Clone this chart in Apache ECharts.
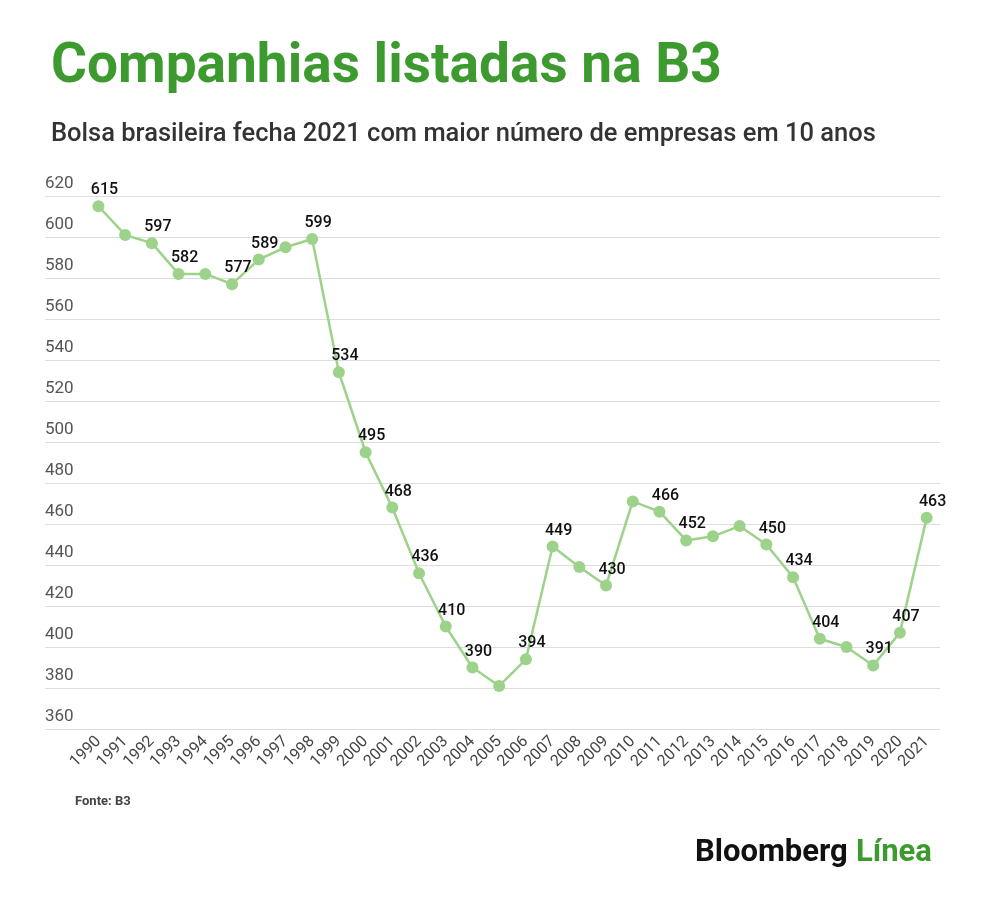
<!DOCTYPE html>
<html><head><meta charset="utf-8">
<script src="https://cdn.jsdelivr.net/npm/echarts@6/dist/echarts.min.js"></script>
<style>html,body{margin:0;background:#fff}#chart{width:1000px;height:898px}</style>
</head><body><div id="chart"></div>
<script>
// anos e número de companhias listadas
var years = [1990,1991,1992,1993,1994,1995,1996,1997,1998,1999,2000,2001,2002,2003,2004,2005,
             2006,2007,2008,2009,2010,2011,2012,2013,2014,2015,2016,2017,2018,2019,2020,2021];
var values = [615,601,597,582,582,577,589,595,599,534,495,468,436,410,390,381,
              394,449,439,430,471,466,452,454,459,450,434,404,400,391,407,463];
// anos que têm rótulo no gráfico
var labeled = [1990,1992,1993,1995,1996,1998,1999,2000,2001,2002,2003,2004,2006,2007,2009,
               2011,2012,2015,2016,2017,2019,2020,2021];

var chart = echarts.init(document.getElementById('chart'));
var data = years.map(function(y, i){
  return {value: [y, values[i]], label: {show: labeled.indexOf(y) >= 0}};
});
chart.setOption({
  backgroundColor: '#fff',
  textStyle: {fontFamily: 'Roboto'},
  title: [
    {text: 'Companhias listadas na B3', left: 46, top: 36,
     textStyle: {color: '#3c9a2e', fontSize: 55, fontWeight: 'bold', fontFamily: 'Roboto'}},
    {text: 'Bolsa brasileira fecha 2021 com maior número de empresas em 10 anos', left: 46, top: 117,
     textStyle: {color: '#333', fontSize: 25.5, fontWeight: 500, fontFamily: 'Roboto'}}
  ],
  grid: {left: 45, right: 60, top: 196, bottom: 169},
  xAxis: {
    type: 'value', min: 1988, max: 2021.5, interval: 1,
    axisLine: {show: false}, axisTick: {show: false}, splitLine: {show: false},
    axisLabel: {rotate: 45, color: '#444', fontSize: 16, margin: 10,
      formatter: function(v){ return (v >= 1990 && v <= 2021) ? String(v) : ''; }}
  },
  yAxis: {
    type: 'value', min: 360, max: 620, interval: 20,
    axisLine: {show: false}, axisTick: {show: false},
    splitLine: {lineStyle: {color: '#ddd', width: 1}},
    axisLabel: {inside: true, verticalAlign: 'bottom', margin: 0, padding: [0,0,4,0],
      color: '#555', fontSize: 17}
  },
  series: [{
    type: 'line', data: data, symbol: 'circle', symbolSize: 12,
    itemStyle: {color: '#9dd28a'},
    lineStyle: {color: '#9dd28a', width: 2.5},
    label: {position: 'top', distance: 2, offset: [6, 0], color: '#111', fontSize: 16, fontWeight: 500,
      formatter: function(p){ return p.value[1]; }}
  }],
  graphic: [
    {type: 'text', left: 75, top: 795, style: {text: 'Fonte: B3', fill: '#444', fontSize: 13, fontWeight: 'bold', fontFamily: 'Roboto'}},
    {type: 'text', left: 695, top: 838, style: {text: 'Bloomberg', fill: '#111', fontSize: 31, fontWeight: 'bold', fontFamily: 'Roboto'}},
    {type: 'text', left: 856, top: 838, style: {text: 'Línea', fill: '#3c9a2e', fontSize: 31, fontWeight: 'bold', fontFamily: 'Roboto'}}
  ]
});
</script></body></html>
